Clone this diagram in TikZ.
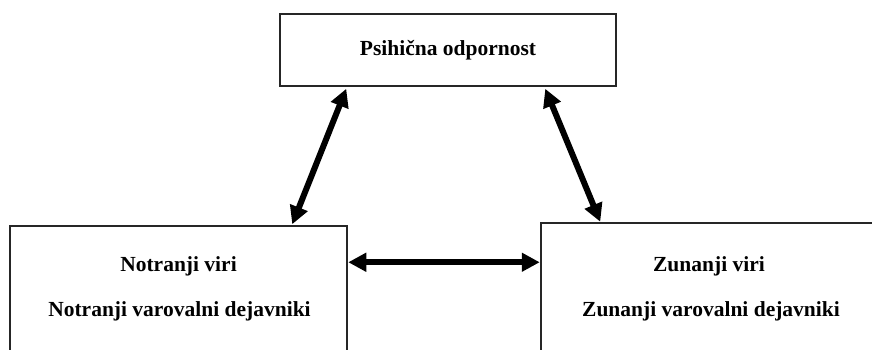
\documentclass[tikz,border=0pt]{standalone}
\usepackage{fontspec}
\setmainfont{Liberation Serif}
\usetikzlibrary{arrows.meta}

\begin{document}
\begin{tikzpicture}[x=1pt,y=-1pt,
  box/.style={draw=\cLine, line width=1.5pt, inner sep=0pt},
  txt/.style={text=\cText, font=\bfseries\fontsize{21.5}{26}\selectfont, anchor=base, inner sep=0pt},
  link/.style={\cArrow, line width=6pt, {Triangle[length=18pt,width=18pt]}-{Triangle[length=18pt,width=18pt]}}]
\def\cLine{black!85}
\def\cArrow{black}
\def\cText{black}
\def\w{337}
\def\h{144}
\useasboundingbox (0,0) rectangle (872,349);
\clip (0,0) rectangle (872,349);
% boxes
\node[box, minimum width=336pt, minimum height=72pt] (psih) at (448,50) {};
\node[box, minimum width=\w pt, minimum height=\h pt] (notr) at (178.5,298) {};
\node[box, minimum width=\w pt, minimum height=\h pt] (zun) at (709.5,295) {};
% texts
\node[txt] (psihT) at (448,55.5) {Psihična odpornost};
\node[txt] (notrA) at (178.5,271) {Notranji viri};
\node[txt] (notrB) at (179.5,316) {Notranji varovalni dejavniki};
\node[txt] (zunA) at (709,271) {Zunanji viri};
\node[txt] (zunB) at (711,316) {Zunanji varovalni dejavniki};
% arrows
\draw[link] ([shift={(67,2)}]psih.south west) -- ([shift={(283,-1)}]notr.north west);
\draw[link] ([shift={(266,2)}]psih.south west) -- ([shift={(60,-0.5)}]zun.north west);
\draw[link] ([shift={(0.5,37)}]notr.north east) -- ([shift={(-0.5,40)}]zun.north west);
\end{tikzpicture}
\end{document}
